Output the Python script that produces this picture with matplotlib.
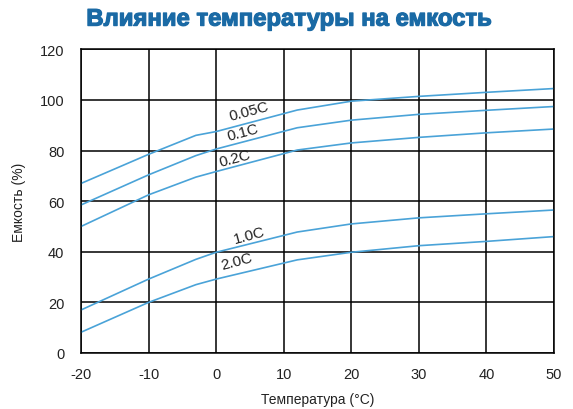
import matplotlib
matplotlib.use('Agg')
import matplotlib.pyplot as plt
import matplotlib.patheffects as pe

plt.rcParams['font.family'] = ['Liberation Sans', 'DejaVu Sans']
plt.rcParams['axes.unicode_minus'] = False

# temperature points (°C)
temps = [-20, -10, -3, 0, 12, 20, 30, 40, 50]

# capacity (%) per discharge rate
cap_005 = [67, 78.5, 86, 87.5, 96, 99.5, 101.4, 103, 104.5]
cap_01 = [58.5, 70.4, 78, 80.6, 89, 92, 94.3, 95.9, 97.4]
cap_02 = [50, 62.5, 69.5, 71.7, 80.2, 83, 85.2, 87, 88.5]
cap_10 = [17, 29.2, 37, 39.8, 47.8, 51, 53.4, 55, 56.5]
cap_20 = [8.2, 20, 27, 29.2, 36.8, 39.8, 42.4, 44.1, 46]

rate_labels = ['0.05C', '0.1C', '0.2C', '1.0C', '2.0C']
label_x = [4.9, 4.0, 2.8, 4.9, 3.1]
label_y = [95.6, 87.5, 77.2, 46.8, 36.2]

x_ticks = [-20, -10, 0, 10, 20, 30, 40, 50]
y_ticks = [0, 20, 40, 60, 80, 100, 120]

line_color = '#4aa3d8'

fig = plt.figure(figsize=(5.73, 4.10), dpi=100)
ax = fig.add_axes([0.1414, 0.1366, 0.8254, 0.7407])

for series in [cap_005, cap_01, cap_02, cap_10, cap_20]:
    ax.plot(temps, series, color=line_color, linewidth=1.2)

for lbl, lx, ly in zip(rate_labels, label_x, label_y):
    ax.text(lx, ly, lbl, fontsize=11, rotation=15, ha='center', va='center',
            color='#222222')

ax.set_xlim(-20, 50)
ax.set_ylim(0, 120)
ax.set_xticks(x_ticks)
ax.set_yticks(y_ticks)
ax.grid(True, color='black', linewidth=1.1)
ax.set_axisbelow(True)
for spine in ax.spines.values():
    spine.set_linewidth(1.1)
ax.tick_params(axis='both', length=0, labelsize=10.5, colors='#222222')
ax.tick_params(axis='x', pad=10)
ax.tick_params(axis='y', pad=12)

ax.set_xlabel('Температура (°C)', fontsize=10, color='#222222', labelpad=8)
ax.set_ylabel('Емкость (%)', fontsize=10, color='#222222', labelpad=10)

fig.text(0.503, 0.951, 'Влияние температуры на емкость', fontsize=17.2,
         fontweight='bold', color='#1a6aa5', ha='center', va='center',
         path_effects=[pe.withStroke(linewidth=0.9, foreground='#1a6aa5')])

fig.savefig('out.png', dpi=100)
